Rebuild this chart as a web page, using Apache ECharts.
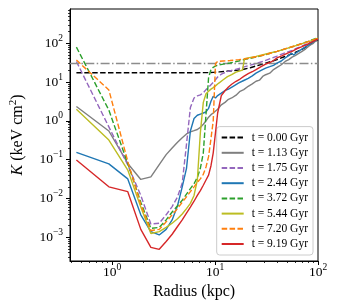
<!DOCTYPE html>
<html><head><meta charset="utf-8">
<script src="https://cdn.jsdelivr.net/npm/echarts@6/dist/echarts.min.js"></script>
<style>html,body{margin:0;padding:0;background:#fff}#c{width:337px;height:307px}</style>
</head><body><div id="c"></div><script>
// ---- data: [radius (kpc), K (keV cm^2)] ----
const seriesNames = ['t = 0.00 Gyr','t = 1.13 Gyr','t = 1.75 Gyr','t = 2.44 Gyr','t = 3.72 Gyr','t = 5.44 Gyr','t = 7.20 Gyr','t = 9.19 Gyr'];
const t000 = [[0.45,17.5],[1.42,17.5],[2.87,17.5],[4.8,17.5],[6.73,17.5],[8.65,17.6],[9.6,17.8],[11,18.3],[13,19],[16,20],[19,21.5],[22,23.5],[25,26],[30,30],[35,34],[40,38],[47,45],[57,55],[67,66],[80,85],[100,125]];
const t113 = [[0.45,2.35],[0.93,0.55],[1.42,0.08],[1.9,0.031],[2.38,0.036],[2.87,0.075],[3.35,0.135],[3.83,0.2],[4.32,0.28],[4.8,0.37],[5.28,0.46],[5.76,0.52],[6.25,0.56],[6.73,0.6],[7.2,0.68],[7.69,0.82],[8.17,1.0],[8.65,1.25],[9.13,1.45],[9.6,1.6],[10.6,2.0],[11.5,2.6],[12.5,3.0],[13.5,3.6],[14.5,3.9],[16,4.6],[17.5,5.8],[19,6.4],[21,7.8],[23,9.0],[25,10.5],[27,11.2],[29,14],[31,15.5],[34,17],[37,21],[40,24],[44,28],[48,34],[52,38],[56,44],[60,48],[65,55],[70,62],[76,72],[83,88],[90,100],[100,132]];
const t175 = [[0.45,34],[0.93,0.7],[1.42,0.073],[1.9,0.012],[2.38,0.0022],[2.87,0.0023],[3.35,0.0038],[3.83,0.0062],[4.32,0.011],[4.8,0.025],[5.28,0.25],[5.76,2.2],[6.25,3.9],[6.73,4.4],[7.2,4.7],[7.69,5.3],[8.17,6.4],[8.65,7.3],[9.13,8.5],[9.6,9.8],[10.6,13.5],[11.5,16],[13,18.5],[15,20.5],[18,23.5],[22,27.5],[26,31],[30,35],[35,41],[40,47],[48,57],[56,66],[65,78],[80,100],[100,132]];
const t244 = [[0.45,0.155],[0.93,0.078],[1.42,0.032],[1.9,0.0038],[2.38,0.0014],[2.87,0.00115],[3.35,0.0016],[3.83,0.0028],[4.32,0.0065],[4.8,0.02],[5.28,0.06],[5.76,0.55],[6.25,1.15],[6.73,1.4],[7.2,1.5],[7.69,1.6],[8.17,1.7],[8.65,2.1],[9.13,3.2],[9.6,4.3],[10.1,3.9],[10.6,4.5],[11.5,5.2],[12.4,6.0],[13.5,6.6],[15,7.8],[17,9.5],[19,11],[21,12.5],[23,14.5],[25,17],[28,20],[31,23],[34,25],[37,27],[40,31],[44,35],[48,42],[52,48],[55,56],[58,50],[62,58],[68,68],[75,80],[85,100],[100,130]];
const t372 = [[0.45,80],[0.93,1.9],[1.42,0.08],[1.9,0.008],[2.38,0.0017],[2.87,0.0018],[3.35,0.0028],[3.83,0.0045],[4.32,0.0065],[4.8,0.009],[5.28,0.013],[5.76,0.018],[6.25,0.024],[6.73,0.035],[7.2,0.06],[7.69,0.15],[8.17,1.5],[8.65,13],[9.13,21],[9.6,24],[10.1,26],[10.8,27.5],[12,29],[14,31],[17,35],[20,39],[25,44],[30,50],[40,62],[50,74],[60,86],[80,112],[100,140]];
const t544 = [[0.45,2.0],[0.93,0.32],[1.42,0.054],[1.9,0.006],[2.38,0.00125],[2.87,0.0014],[3.35,0.0018],[3.83,0.0023],[4.32,0.003],[4.8,0.004],[5.28,0.0055],[5.76,0.0075],[6.25,0.012],[6.73,0.03],[7.2,0.5],[7.69,3],[8.17,5],[8.65,5.8],[9.13,6.6],[9.6,7.2],[10.1,8],[10.8,9.3],[12,11.5],[13.2,13.8],[14.5,15.5],[16,18],[17.5,19.5],[18.5,20.5],[19.3,40],[21,42],[25,46],[30,52],[35,57],[40,62],[50,74],[60,86],[70,98],[85,115],[100,135]];
const t720 = [[0.45,37],[0.93,6.3],[1.42,0.09],[1.9,0.007],[2.38,0.0015],[2.87,0.0016],[3.35,0.0025],[3.83,0.0038],[4.32,0.0055],[4.8,0.008],[5.28,0.011],[5.76,0.015],[6.25,0.02],[6.73,0.026],[7.2,0.032],[7.69,0.042],[8.17,0.065],[8.65,0.12],[9.13,0.35],[9.6,1.0],[10.1,30],[10.6,34],[12,35],[14,36],[17,38],[20,40],[25,45],[30,50],[40,62],[50,75],[60,86],[80,110],[100,135]];
const t919 = [[0.45,0.098],[0.93,0.020],[1.42,0.015],[1.9,0.0016],[2.38,0.00055],[2.87,0.00049],[3.35,0.00078],[3.83,0.0012],[4.32,0.0019],[4.8,0.0028],[5.28,0.0042],[5.76,0.006],[6.25,0.0085],[6.73,0.012],[7.2,0.016],[7.69,0.022],[8.17,0.03],[8.65,0.04],[9.13,0.07],[9.6,0.15],[10.1,0.5],[10.6,1.6],[11.5,4.5],[12.5,6],[13.5,7.5],[14.5,8.8],[16,10.5],[17.5,12],[19,14],[21,16.5],[23,18.5],[25,21],[28,25],[31,29],[34,32],[37,36],[40,42],[45,48],[50,55],[56,62],[62,72],[70,82],[80,96],[90,112],[100,130]];
const refK = 30;
const xTicks = [1, 10, 100];
const yTicks = [1e-3, 1e-2, 1e-1, 1, 10, 100];
const xLim = [0.39, 100];
const yLim = [2.45e-4, 766];

const L = Math.log10;
function minorTicks(lo, hi) {
  const out = [];
  for (let e = Math.floor(L(lo)); e <= Math.ceil(L(hi)); e++) {
    for (let k = 2; k <= 9; k++) { const v = k * Math.pow(10, e); if (v >= lo && v <= hi) out.push(L(v)); }
  }
  return out;
}
const FONT = 'Liberation Serif';
const sup = v => { const e = Math.round(v); return '{b|10}{s|' + (e < 0 ? '\u2212' + (-e) : e) + '}'; };
const rich = {
  b: {fontFamily: FONT, fontSize: 13.5, color: '#000', verticalAlign: 'bottom', lineHeight: 14},
  s: {fontFamily: FONT, fontSize: 9.5, color: '#000', verticalAlign: 'bottom', lineHeight: 10, padding: [0, 0, 7, 0]}
};
const colors = ['#000000', '#7f7f7f', '#9467bd', '#1f77b4', '#2ca02c', '#bcbd22', '#ff7f0e', '#d62728'];
const dashed = [true, false, true, false, true, false, true, false];
const datasets = [t000, t113, t175, t244, t372, t544, t720, t919];

const series = datasets.map((d, i) => ({
  name: seriesNames[i], type: 'line', symbol: 'none', showSymbol: false,
  xAxisIndex: 0, yAxisIndex: 0,
  data: d.map(p => [L(p[0]), L(p[1])]),
  lineStyle: {color: colors[i], width: 1.4, type: dashed[i] ? [5.5, 2.4] : 'solid'},
  itemStyle: {color: colors[i]},
  z: 2 + i
}));
series.push({
  name: 'ref', type: 'line', xAxisIndex: 0, yAxisIndex: 0, data: [], symbol: 'none',
  markLine: {silent: true, symbol: 'none', label: {show: false},
    lineStyle: {color: '#8c8c8c', width: 1.3, type: [9, 2.4, 1.5, 2.4]},
    data: [{yAxis: L(refK)}]},
  z: 20
});

const chart = echarts.init(document.getElementById('c'), null, {renderer: 'canvas'});
chart.setOption({
  animation: false,
  backgroundColor: '#fff',
  grid: {left: 65, top: 9, right: 19, bottom: 46, show: true, borderColor: '#000', borderWidth: 1, backgroundColor: 'transparent'},
  xAxis: [
    {type: 'value', min: L(xLim[0]), max: L(xLim[1]), position: 'bottom',
     axisLine: {show: true, onZero: false, lineStyle: {color: '#000', width: 1}},
     axisTick: {show: true, length: 4, lineStyle: {color: '#000', width: 1}, customValues: xTicks.map(L)},
     axisLabel: {customValues: xTicks.map(L), formatter: sup, rich: rich, margin: 4},
     splitLine: {show: false},
     name: 'Radius (kpc)', nameLocation: 'middle', nameGap: 22,
     nameTextStyle: {fontFamily: FONT, fontSize: 16, color: '#000'}},
    {type: 'value', min: L(xLim[0]), max: L(xLim[1]), position: 'bottom',
     axisLine: {show: false, onZero: false},
     axisTick: {show: true, length: 2, lineStyle: {color: '#000', width: 0.8}, customValues: minorTicks(xLim[0], xLim[1])},
     axisLabel: {show: false}, splitLine: {show: false}}
  ],
  yAxis: [
    {type: 'value', min: L(yLim[0]), max: L(yLim[1]), position: 'left',
     axisLine: {show: true, onZero: false, lineStyle: {color: '#000', width: 1}},
     axisTick: {show: true, length: 4, lineStyle: {color: '#000', width: 1}, customValues: yTicks.map(L)},
     axisLabel: {customValues: yTicks.map(L), formatter: sup, rich: rich, margin: 7},
     splitLine: {show: false},
     name: '{i|K} (keV cm{s|2})', nameLocation: 'middle', nameGap: 43,
     nameTextStyle: {fontFamily: FONT, fontSize: 16, color: '#000',
       rich: {i: {fontFamily: FONT, fontSize: 16, fontStyle: 'italic', color: '#000'},
              s: {fontFamily: FONT, fontSize: 11, color: '#000', padding: [0, 0, 8, 0]}}}},
    {type: 'value', min: L(yLim[0]), max: L(yLim[1]), position: 'left',
     axisLine: {show: false, onZero: false},
     axisTick: {show: true, length: 2, lineStyle: {color: '#000', width: 0.8}, customValues: minorTicks(yLim[0], yLim[1])},
     axisLabel: {show: false}, splitLine: {show: false}}
  ],
  legend: {
    data: seriesNames, orient: 'vertical', right: 24, bottom: 52,
    itemWidth: 22, itemHeight: 10, itemGap: 3.2,
    padding: [5, 5, 5, 4],
    borderColor: '#cccccc', borderWidth: 1, borderRadius: 3,
    backgroundColor: 'rgba(255,255,255,0.8)',
    itemStyle: {opacity: 0},
    textStyle: {fontFamily: FONT, fontSize: 11.5, color: '#000', padding: [0, 0, 0, 3]},
    selectedMode: false
  },
  series: series
});
</script></body></html>
